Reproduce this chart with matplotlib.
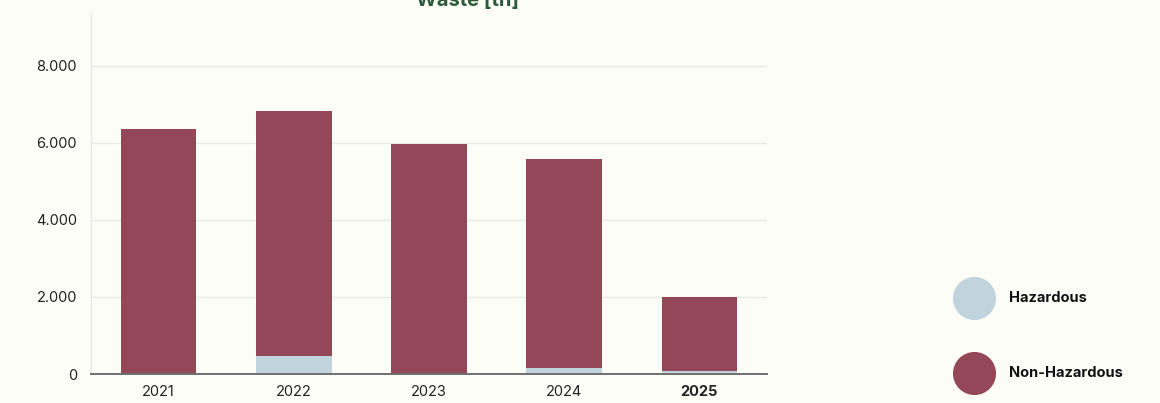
import matplotlib.pyplot as plt
from matplotlib.lines import Line2D
from matplotlib.ticker import FuncFormatter

plt.rcParams['font.family'] = ['Inter', 'DejaVu Sans']

# data (tonnes)
years = ['2021', '2022', '2023', '2024', '2025']
hazardous = [0, 470, 10, 150, 90]
non_hazardous = [6360, 6360, 5960, 5430, 1910]
series = ['Hazardous', 'Non-Hazardous']

BG = '#fdfdf8'
RED = '#934757'
BLUE = '#c1d3dd'

fig = plt.figure(figsize=(11.6, 4.03), dpi=100, facecolor=BG)
ax = fig.add_axes([91 / 1160, 1 - 374 / 403, (767 - 91) / 1160, (374 - 12) / 403])
ax.set_facecolor(BG)

x = range(len(years))
ax.bar(x, hazardous, width=0.56, color=BLUE, zorder=2, label=series[0])
ax.bar(x, non_hazardous, width=0.56, bottom=hazardous, color=RED, zorder=2,
       label=series[1])

ax.set_xlim(-0.5, len(years) - 0.5)
ax.set_ylim(0, 9400)
ax.set_yticks([0, 2000, 4000, 6000, 8000])
ax.yaxis.set_major_formatter(FuncFormatter(lambda v, p: f'{int(v):,}'.replace(',', '.')))
ax.set_xticks(list(x))
ax.set_xticklabels(years)
ax.get_xticklabels()[-1].set_fontweight('bold')

ax.grid(axis='y', color='#e9e9e6', linewidth=1, zorder=0)
ax.tick_params(length=0, labelsize=10.5, colors='#222222', pad=10)
ax.tick_params(axis='x', pad=8)
for s in ['top', 'right']:
    ax.spines[s].set_visible(False)
ax.spines['left'].set_color('#e6e6e3')
ax.spines['bottom'].set_color('#6f6f6f')
ax.spines['bottom'].set_linewidth(1.4)
ax.spines['bottom'].set_zorder(3)

# title sits partly above the top edge, as in the source
fig.text(468 / 1160, 1 - 1 / 403, 'Waste [tn]', ha='center', va='center',
         fontsize=14.5, fontweight='bold', color='#2d5a3d')

# legend at the right, drawn in figure coordinates
for i, (name, col) in enumerate(zip(series, [BLUE, RED])):
    yy = 1 - (298 + 75 * i) / 403
    fig.add_artist(Line2D([974 / 1160], [yy], transform=fig.transFigure, marker='o',
                          markersize=30, markerfacecolor=col, markeredgecolor=col,
                          linestyle=''))
    fig.text(1009 / 1160, yy, name, ha='left', va='center', fontsize=10.5,
             fontweight='bold', color='#111111')

fig.savefig('out.png', dpi=100, facecolor=BG)
